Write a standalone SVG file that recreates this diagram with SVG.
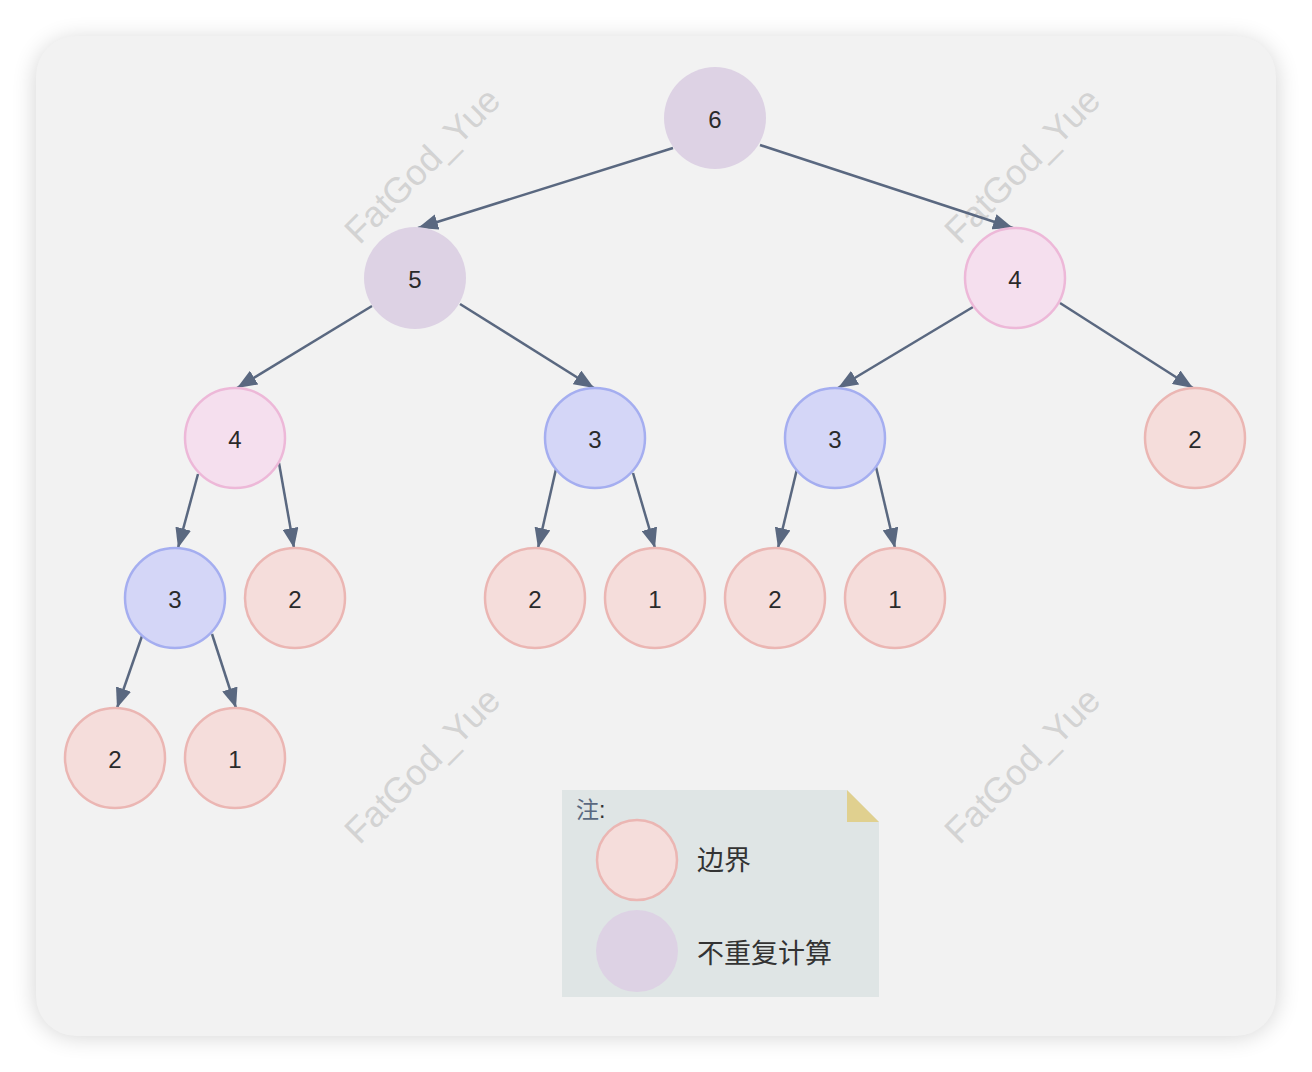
<svg xmlns="http://www.w3.org/2000/svg" width="1312" height="1072" viewBox="0 0 1312 1072">
<defs>
<filter id="sh" x="-10%" y="-10%" width="120%" height="120%"><feGaussianBlur stdDeviation="12"/></filter>
<marker id="ar" viewBox="0 0 20 16" refX="20" refY="8" markerWidth="20" markerHeight="16" markerUnits="userSpaceOnUse" orient="auto"><path d="M0,0 L20,8 L0,16 z" fill="#5a6880"/></marker>
<style>
.n text{font-family:"Liberation Sans",Arial,sans-serif;font-size:24px;fill:#2a2a2a;text-anchor:middle;dominant-baseline:central}
.r circle{fill:#f5dddb;stroke:#ebb6b3;stroke-width:2.5}
.p circle{fill:#f5dfee;stroke:#edb8d8;stroke-width:2.5}
.b circle{fill:#d4d6f7;stroke:#a5aef0;stroke-width:2.5}
.u circle{fill:#ddd2e4}
.e line{stroke:#5a6880;stroke-width:2.5;marker-end:url(#ar)}
.wm{font-family:"Liberation Sans",Arial,sans-serif;font-size:36px;fill:#d3d3d3;text-anchor:middle}
.lg{font-family:"Liberation Sans","Noto Sans CJK SC",sans-serif;font-size:27px;fill:#333}
</style>
</defs>
<rect x="0" y="0" width="1312" height="1072" fill="#ffffff"/>
<rect x="36" y="40" width="1240" height="996" rx="40" fill="#000" opacity="0.18" filter="url(#sh)"/>
<rect x="36" y="36" width="1240" height="1000" rx="40" fill="#f2f2f2"/>
<g id="watermarks">
<text class="wm" transform="translate(431,174) rotate(-45)">FatGod_Yue</text>
<text class="wm" transform="translate(1031,174) rotate(-45)">FatGod_Yue</text>
<text class="wm" transform="translate(431,774) rotate(-45)">FatGod_Yue</text>
<text class="wm" transform="translate(1031,774) rotate(-45)">FatGod_Yue</text>
</g>
<g id="connectors" class="e">
<line x1="673" y1="148" x2="418" y2="228"/>
<line x1="760" y1="145" x2="1013" y2="228"/>
<line x1="372" y1="306" x2="237" y2="388"/>
<line x1="460" y1="304" x2="594" y2="388"/>
<line x1="973" y1="307" x2="838" y2="388"/>
<line x1="1060" y1="303" x2="1193" y2="388"/>
<line x1="198" y1="474" x2="178" y2="548"/>
<line x1="279" y1="463" x2="294" y2="548"/>
<line x1="556" y1="469" x2="538" y2="548"/>
<line x1="633" y1="473" x2="655" y2="548"/>
<line x1="797" y1="469" x2="778" y2="548"/>
<line x1="876" y1="467" x2="895" y2="548"/>
<line x1="142" y1="636" x2="117" y2="708"/>
<line x1="212" y1="634" x2="236" y2="708"/>
</g>
<g id="n6" class="n u"><circle cx="715" cy="118" r="51"/><text x="715" y="119">6</text></g>
<g id="n5" class="n u"><circle cx="415" cy="278" r="51"/><text x="415" y="279">5</text></g>
<g id="n4r" class="n p"><circle cx="1015" cy="278" r="50"/><text x="1015" y="279">4</text></g>
<g id="n4l" class="n p"><circle cx="235" cy="438" r="50"/><text x="235" y="439">4</text></g>
<g id="n3a" class="n b"><circle cx="595" cy="438" r="50"/><text x="595" y="439">3</text></g>
<g id="n3b" class="n b"><circle cx="835" cy="438" r="50"/><text x="835" y="439">3</text></g>
<g id="n2a" class="n r"><circle cx="1195" cy="438" r="50"/><text x="1195" y="439">2</text></g>
<g id="n3c" class="n b"><circle cx="175" cy="598" r="50"/><text x="175" y="599">3</text></g>
<g id="n2b" class="n r"><circle cx="295" cy="598" r="50"/><text x="295" y="599">2</text></g>
<g id="n2c" class="n r"><circle cx="535" cy="598" r="50"/><text x="535" y="599">2</text></g>
<g id="n1a" class="n r"><circle cx="655" cy="598" r="50"/><text x="655" y="599">1</text></g>
<g id="n2d" class="n r"><circle cx="775" cy="598" r="50"/><text x="775" y="599">2</text></g>
<g id="n1b" class="n r"><circle cx="895" cy="598" r="50"/><text x="895" y="599">1</text></g>
<g id="n2e" class="n r"><circle cx="115" cy="758" r="50"/><text x="115" y="759">2</text></g>
<g id="n1c" class="n r"><circle cx="235" cy="758" r="50"/><text x="235" y="759">1</text></g>
<g id="legend">
<path d="M562,790 H847 L879,822 V997 H562 z" fill="#dfe5e5"/>
<path d="M847,790 L879,822 H847 z" fill="#e0d08f"/>
<text x="576" y="818" font-family="'Liberation Sans','Noto Sans CJK SC',sans-serif" font-size="23" fill="#5a6880">注<tspan fill="#333">:</tspan></text>
<circle cx="637" cy="860" r="40" fill="#f5dddb" stroke="#ebb6b3" stroke-width="2.5"/>
<circle cx="637" cy="951" r="41" fill="#ddd2e4"/>
<text class="lg" x="697" y="870">边界</text>
<text class="lg" x="697" y="963">不重复计算</text>
</g>
</svg>
